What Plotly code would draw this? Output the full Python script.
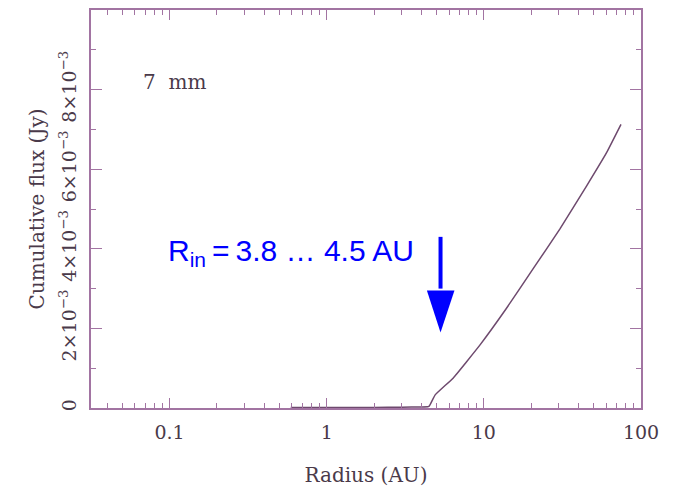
import numpy as np
import plotly.graph_objects as go

# ---- data ----
radius_au = [0.59, 1.0, 2.0, 3.0, 4.0, 4.4, 4.5, 4.9, 6.37, 9.43, 13.9, 20.6, 30.5, 45.1, 60.5, 74.6]
cum_flux_jy = [0.00001, 0.00001, 0.000015, 0.00002, 0.000025, 0.00003, 0.00005, 0.00033, 0.00075,
               0.00158, 0.0025, 0.0035, 0.0045, 0.00558, 0.00642, 0.007125]

ytick_vals = [0, 0.002, 0.004, 0.006, 0.008]
ytick_text = ["0", "2×10<sup>−3</sup>", "4×10<sup>−3</sup>", "6×10<sup>−3</sup>", "8×10<sup>−3</sup>"]
xtick_vals = [0.1, 1, 10, 100]
xtick_text = ["0.1", "1", "10", "100"]

# arrow marking R_in
arrow_x = 5.3
arrow_head_x = [4.34, 6.5, 5.3]
arrow_shaft_y = [0.0043, 0.0030]
arrow_head_y = [0.00295, 0.00295, 0.0019]

frame_col = "#a274a2"
text_col = "#4a3a4a"
serif = "DejaVu Serif"

fig = go.Figure()
fig.add_trace(go.Scatter(x=radius_au, y=cum_flux_jy, mode="lines",
                         line=dict(color="#6e4a6e", width=1.5, shape="spline", smoothing=0.3),
                         hoverinfo="skip"))
fig.add_trace(go.Scatter(x=[arrow_x, arrow_x], y=arrow_shaft_y, mode="lines",
                         line=dict(color="#0000ff", width=4), hoverinfo="skip"))
fig.add_trace(go.Scatter(x=arrow_head_x + [arrow_head_x[0]], y=arrow_head_y + [arrow_head_y[0]],
                         mode="lines", fill="toself", fillcolor="#0000ff",
                         line=dict(color="#0000ff", width=0), hoverinfo="skip"))

axis_common = dict(showline=True, linecolor=frame_col, linewidth=1.5, mirror="allticks",
                   ticks="inside", tickcolor=frame_col, tickwidth=1.2, showgrid=False, zeroline=False,
                   tickfont=dict(family=serif, size=19, color=text_col))

fig.update_xaxes(type="log", range=[-1.5, 2], tickvals=xtick_vals, ticktext=xtick_text, ticklen=10,
                 minor=dict(ticks="inside", ticklen=5, tickcolor=frame_col, dtick="D1", showgrid=False),
                 ticklabelstandoff=6,
                 title=dict(text="Radius (AU)", font=dict(family=serif, size=20, color=text_col), standoff=26),
                 **axis_common)
fig.update_yaxes(range=[0, 0.01], tickvals=ytick_vals, ticktext=ytick_text, ticklen=11, tickangle=-90,
                 minor=dict(ticks="inside", ticklen=5, tickcolor=frame_col, dtick=0.001, showgrid=False),
                 ticklabelstandoff=6,
                 title=dict(text="Cumulative flux (Jy)", font=dict(family=serif, size=20, color=text_col), standoff=6),
                 **axis_common)

fig.add_annotation(x=np.log10(0.066), y=0.0082, xref="x", yref="y", text="7\u00a0\u00a0mm", showarrow=False,
                   xanchor="left", yanchor="middle", font=dict(family=serif, size=20, color=text_col))
fig.add_annotation(x=np.log10(0.0955), y=0.0039, xref="x", yref="y",
                   text="R<sub>in</sub>\u2009=\u20093.8 … 4.5 AU", showarrow=False,
                   xanchor="left", yanchor="middle", font=dict(family="Liberation Sans", size=30, color="#0000ff"))

fig.update_layout(width=674, height=491, margin=dict(l=91, r=33, t=8, b=81),
                  plot_bgcolor="white", paper_bgcolor="white", showlegend=False)
fig.write_html("out.html")
